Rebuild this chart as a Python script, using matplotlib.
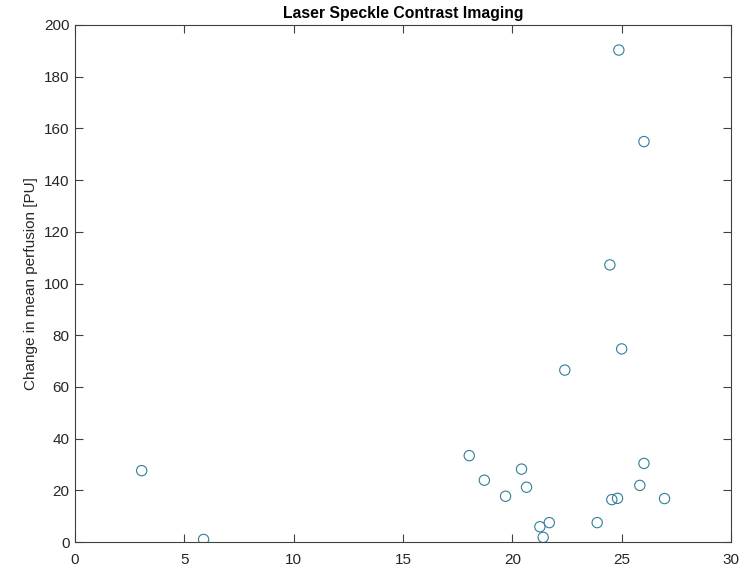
import matplotlib
matplotlib.use('Agg')
import matplotlib.pyplot as plt

# values
x = [3.05, 5.88, 18.03, 18.72, 19.69, 20.42, 20.65, 21.26, 21.41, 21.69,
     22.40, 23.88, 24.46, 24.55, 24.81, 24.87, 25.00, 25.83, 26.02, 26.02, 26.96]
y = [27.6, 1.0, 33.4, 23.9, 17.7, 28.2, 21.2, 5.9, 1.8, 7.5,
     66.5, 7.5, 107.2, 16.4, 16.9, 190.3, 74.7, 21.9, 30.4, 154.9, 16.8]

xticks = [0, 5, 10, 15, 20, 25, 30]
yticks = [0, 20, 40, 60, 80, 100, 120, 140, 160, 180, 200]

plt.rcParams['font.family'] = ['Liberation Sans', 'DejaVu Sans']

fig = plt.figure(figsize=(7.42, 5.67), dpi=100)
ax = fig.add_axes([75/742, 25/567, 656/742, 517/567])

ax.scatter(x, y, s=55, facecolors='none', edgecolors='#2f7f9a', linewidths=0.8)

ax.set_xlim(0, 30)
ax.set_ylim(0, 200)
ax.set_xticks(xticks)
ax.set_yticks(yticks)
ax.tick_params(direction='in', top=True, right=True, length=6, width=0.8,
               color='#404040', labelsize=11, labelcolor='#262626', pad=4)
ax.tick_params(axis='x', pad=8)
for sp in ax.spines.values():
    sp.set_color('#404040')
    sp.set_linewidth(0.8)

ax.set_ylabel('Change in mean perfusion [PU]', fontsize=11, color='#262626')
ax.set_title('Laser Speckle Contrast Imaging', fontsize=11.3, fontweight='bold', pad=5)

fig.savefig('out.png', dpi=100)
